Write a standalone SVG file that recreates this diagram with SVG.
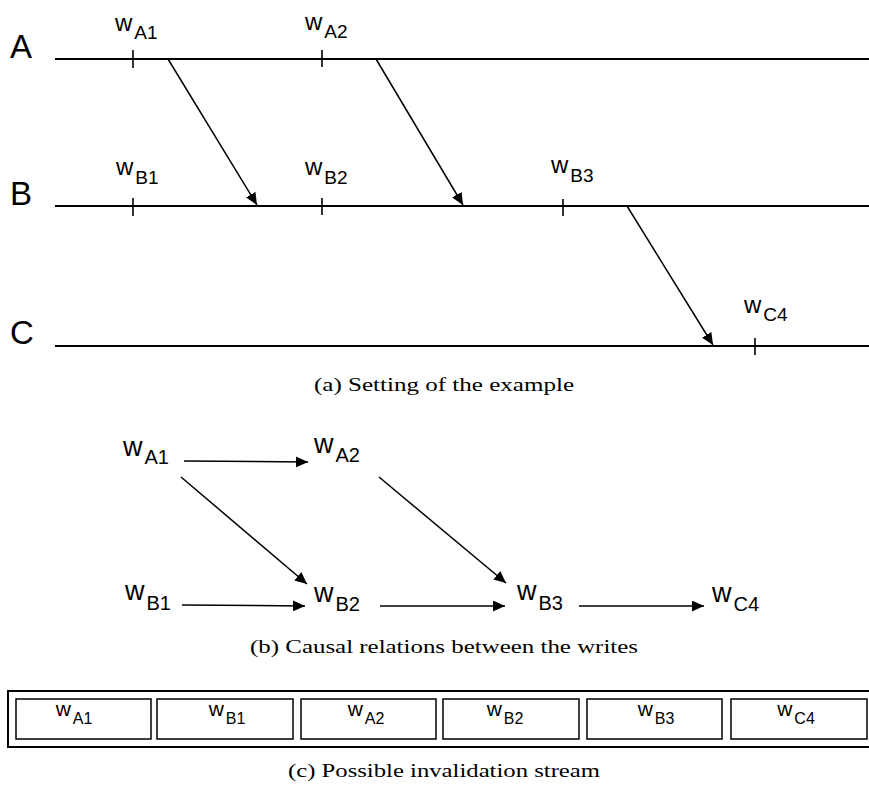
<svg xmlns="http://www.w3.org/2000/svg" width="869" height="785" viewBox="0 0 869 785">
  <defs>
    <marker id="head" markerUnits="userSpaceOnUse" markerWidth="12" markerHeight="11" refX="12" refY="5.5" orient="auto">
      <path d="M0,0 L12,5.5 L0,11 Z" fill="#000"/>
    </marker>
  </defs>
  <style>
    .sans { font-family: "Liberation Sans", Arial, sans-serif; fill: #000; }
    .serif { font-family: "Liberation Serif", "Times New Roman", serif; fill: #000; font-size: 19px; }
    .proc { font-size: 33px; }
    .lane { stroke: #000; stroke-width: 2; fill: none; }
    .tick { stroke: #000; stroke-width: 1.6; }
    .msg { stroke: #000; stroke-width: 1.5; fill: none; marker-end: url(#head); }
    .wa { font-size: 24px; }
    .wa .s { font-size: 19px; }
    .wb { font-size: 27px; }
    .wb .s { font-size: 20px; }
    .wc { font-size: 21px; }
    .wc .s { font-size: 16px; }
    .box { fill: #fff; stroke: #000; stroke-width: 1.5; }
    .frame { fill: none; stroke: #000; stroke-width: 2; }
  </style>

  <!-- (a) process timelines -->
  <g id="proc-A">
    <text class="sans proc" x="10" y="58">A</text>
    <line class="lane" x1="55" y1="59" x2="869" y2="59"/>
  </g>
  <g id="proc-B">
    <text class="sans proc" x="10" y="205">B</text>
    <line class="lane" x1="55" y1="206" x2="869" y2="206"/>
  </g>
  <g id="proc-C">
    <text class="sans proc" x="10" y="344">C</text>
    <line class="lane" x1="55" y1="346" x2="869" y2="346"/>
  </g>

  <!-- (a) write events -->
  <g id="ev-wA1">
    <line class="tick" x1="133" y1="50" x2="133" y2="68"/>
    <text class="sans wa" x="115" y="31">w<tspan class="s" dx="2" dy="8">A1</tspan></text>
  </g>
  <g id="ev-wA2">
    <line class="tick" x1="322" y1="50" x2="322" y2="67"/>
    <text class="sans wa" x="305" y="30">w<tspan class="s" dx="2" dy="8">A2</tspan></text>
  </g>
  <g id="ev-wB1">
    <line class="tick" x1="133" y1="198" x2="133" y2="216"/>
    <text class="sans wa" x="116" y="175">w<tspan class="s" dx="2" dy="9">B1</tspan></text>
  </g>
  <g id="ev-wB2">
    <line class="tick" x1="322" y1="198" x2="322" y2="215"/>
    <text class="sans wa" x="305" y="175">w<tspan class="s" dx="2" dy="9">B2</tspan></text>
  </g>
  <g id="ev-wB3">
    <line class="tick" x1="563" y1="199" x2="563" y2="216"/>
    <text class="sans wa" x="551" y="173">w<tspan class="s" dx="2" dy="9">B3</tspan></text>
  </g>
  <g id="ev-wC4">
    <line class="tick" x1="755" y1="338" x2="755" y2="355"/>
    <text class="sans wa" x="744" y="313">w<tspan class="s" dx="2" dy="8">C4</tspan></text>
  </g>

  <text class="serif" x="444" y="391" text-anchor="middle" textLength="260" lengthAdjust="spacingAndGlyphs">(a) Setting of the example</text>

  <!-- (b) causal graph nodes -->
  <g id="node-wA1"><text class="sans wb" x="123" y="456">w<tspan class="s" dx="2" dy="8">A1</tspan></text></g>
  <g id="node-wA2"><text class="sans wb" x="314" y="453">w<tspan class="s" dx="2" dy="9">A2</tspan></text></g>
  <g id="node-wB1"><text class="sans wb" x="125" y="600">w<tspan class="s" dx="2" dy="10">B1</tspan></text></g>
  <g id="node-wB2"><text class="sans wb" x="314" y="602">w<tspan class="s" dx="2" dy="9">B2</tspan></text></g>
  <g id="node-wB3"><text class="sans wb" x="517" y="600">w<tspan class="s" dx="2" dy="10">B3</tspan></text></g>
  <g id="node-wC4"><text class="sans wb" x="712" y="602">w<tspan class="s" dx="2" dy="9">C4</tspan></text></g>

  <!-- connectors: messages in (a), causal edges in (b) -->
  <g id="connectors">
    <line class="msg" x1="168" y1="59" x2="257" y2="205"/>
    <line class="msg" x1="376" y1="59" x2="463" y2="205"/>
    <line class="msg" x1="627" y1="206" x2="713" y2="345"/>

    <line class="msg" x1="184" y1="461" x2="308" y2="462"/>
    <line class="msg" x1="181" y1="477" x2="307" y2="584"/>
    <line class="msg" x1="379" y1="477" x2="506" y2="583"/>
    <line class="msg" x1="182" y1="605" x2="305" y2="606"/>
    <line class="msg" x1="380" y1="606" x2="505" y2="606"/>
    <line class="msg" x1="579" y1="606" x2="704" y2="606"/>
  </g>

  <text class="serif" x="444" y="653" text-anchor="middle" textLength="388" lengthAdjust="spacingAndGlyphs">(b) Causal relations between the writes</text>

  <!-- (c) invalidation stream -->
  <g id="stream">
    <rect class="frame" x="8" y="691" width="880" height="56"/>
  </g>
  <g id="slot-1">
    <rect class="box" x="16" y="699" width="135" height="40"/>
    <text class="sans wc" x="74" y="716" text-anchor="middle">w<tspan class="s" dx="2" dy="8">A1</tspan></text>
  </g>
  <g id="slot-2">
    <rect class="box" x="157" y="699" width="136" height="40"/>
    <text class="sans wc" x="227" y="716" text-anchor="middle">w<tspan class="s" dx="2" dy="8">B1</tspan></text>
  </g>
  <g id="slot-3">
    <rect class="box" x="301" y="699" width="135" height="40"/>
    <text class="sans wc" x="366" y="716" text-anchor="middle">w<tspan class="s" dx="2" dy="8">A2</tspan></text>
  </g>
  <g id="slot-4">
    <rect class="box" x="443" y="699" width="136" height="40"/>
    <text class="sans wc" x="505" y="716" text-anchor="middle">w<tspan class="s" dx="2" dy="8">B2</tspan></text>
  </g>
  <g id="slot-5">
    <rect class="box" x="587" y="699" width="135" height="40"/>
    <text class="sans wc" x="656" y="716" text-anchor="middle">w<tspan class="s" dx="2" dy="8">B3</tspan></text>
  </g>
  <g id="slot-6">
    <rect class="box" x="731" y="699" width="136" height="40"/>
    <text class="sans wc" x="796" y="716" text-anchor="middle">w<tspan class="s" dx="2" dy="8">C4</tspan></text>
  </g>

  <text class="serif" x="444" y="777" text-anchor="middle" textLength="312" lengthAdjust="spacingAndGlyphs">(c) Possible invalidation stream</text>
</svg>
